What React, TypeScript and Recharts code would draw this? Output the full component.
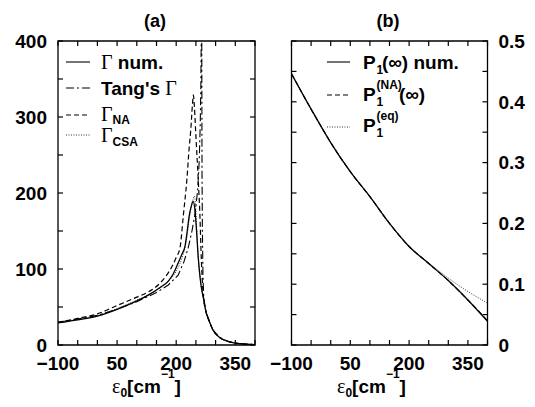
import React from 'react';
import { LineChart, Line, XAxis, YAxis, ReferenceArea } from 'recharts';

// ---------- ticks ----------
const epsTicks = [-100, -50, 0, 50, 100, 150, 200, 250, 300, 350, 400];
const epsLabels = [-100, 50, 200, 350];
const gammaTicks = [0, 50, 100, 150, 200, 250, 300, 350, 400];
const gammaLabels = [0, 100, 200, 300, 400];
const pTicks = [0, 0.05, 0.1, 0.15, 0.2, 0.25, 0.3, 0.35, 0.4, 0.45, 0.5];
const pLabels = [0, 0.1, 0.2, 0.3, 0.4, 0.5];

// ---------- panel (a) ----------
const gammaNumEps = [-100, -50, 0, 50, 100, 130, 160, 180, 193, 205, 215, 222, 228, 233, 238, 243, 247, 251, 256, 260, 264, 269, 275, 285, 293, 310, 330, 350, 380, 400];
const gammaNumVal = [29, 33, 38, 47, 58, 66, 76, 84, 94, 108, 120, 129, 150, 170, 182, 189, 180, 155, 115, 92, 75, 62, 45, 30, 20, 10, 5, 2.5, 1, 0.5];

const tangEps = [-100, -50, 0, 50, 100, 150, 180, 205, 220, 231, 240, 248, 254.5, 258.5, 261, 262.5, 264, 264.8, 265.5, 266.5, 268, 270, 275, 285, 293, 310, 330, 350, 380, 400];
const tangVal = [30, 34, 39, 47, 57, 69, 79, 92, 110, 129, 150, 173, 204, 243, 290, 340, 430, 430, 230, 150, 90, 62, 45, 30, 20, 10, 5, 2.5, 1, 0.5];

const gammaNAEps = [-100, -50, 0, 50, 100, 130, 160, 189, 200, 210, 218, 227, 233, 237, 241, 243.5, 246, 250, 256, 260, 264, 269, 275, 285, 293, 310, 330, 350, 380, 400];
const gammaNAVal = [30, 35, 41, 52, 63, 70, 82, 103, 115, 129, 170, 217, 260, 283, 315, 329, 315, 275, 217, 173, 110, 64, 45, 30, 20, 10, 5, 2.5, 1, 0.5];

const gammaCSAEps = [-100, -50, 0, 50, 100, 150, 180, 200, 215, 225, 233, 238, 243, 246, 249, 252, 256, 260, 264, 269, 275, 285, 293, 310, 330, 350, 380, 400];
const gammaCSAVal = [30, 34, 39, 48, 59, 72, 84, 97, 115, 135, 165, 182, 192, 196, 185, 155, 115, 92, 75, 62, 45, 30, 20, 10, 5, 2.5, 1, 0.5];

// ---------- panel (b) ----------
const pEps = [-100, -50, 0, 50, 100, 150, 200, 250, 300, 350, 400];
const pNumVal = [0.446, 0.388, 0.333, 0.285, 0.244, 0.2, 0.162, 0.134, 0.106, 0.074, 0.039];
const pNAVal = [0.446, 0.388, 0.333, 0.285, 0.244, 0.2, 0.162, 0.134, 0.106, 0.074, 0.04];
const pEqVal = [0.446, 0.388, 0.333, 0.285, 0.244, 0.2, 0.162, 0.135, 0.11, 0.088, 0.069];

const zip = (xs: number[], ys: number[]) => xs.map((x, i) => ({ x, y: ys[i] }));

const SANS = '"Liberation Sans", Arial, Helvetica, sans-serif';
const SERIF = '"Liberation Serif", "Times New Roman", serif';
const labelStyle = { fontFamily: SANS, fontWeight: 'bold' as const, fontSize: 19, fill: '#000' };

const fmtNum = (v: number) => (v < 0 ? '\u2212' + String(-v) : String(v));
const has = (arr: number[], v: number) => arr.some((l) => Math.abs(l - v) < 1e-9);

// layout constants (plot box sizes)
const PLOT_H = 304;
const PLOT_W_A = 197;
const PLOT_W_B = 196;
const TICK = 5;
const M_X = 12;
const M_Y = 11;

const TK = { stroke: '#000', strokeWidth: 1.2 };

function bottomTick(p: any) {
  const { x, y, payload } = p;
  const v = payload.value as number;
  const ay = y - M_X;
  return (
    <g>
      <line x1={x} x2={x} y1={ay} y2={ay - TICK} {...TK} />
      <line x1={x} x2={x} y1={ay - PLOT_H} y2={ay - PLOT_H + TICK} {...TK} />
      {has(epsLabels, v) && (
        <text x={x} y={y} dy="0.71em" textAnchor="middle" {...labelStyle}>{fmtNum(v)}</text>
      )}
    </g>
  );
}

function leftTickA(p: any) {
  const { x, y, payload } = p;
  const v = payload.value as number;
  const ax = x + M_Y;
  return (
    <g>
      <line x1={ax} x2={ax + TICK} y1={y} y2={y} {...TK} />
      <line x1={ax + PLOT_W_A} x2={ax + PLOT_W_A - TICK} y1={y} y2={y} {...TK} />
      {has(gammaLabels, v) && (
        <text x={x} y={y} dy="0.355em" textAnchor="end" {...labelStyle}>{String(v)}</text>
      )}
    </g>
  );
}

function rightTickB(p: any) {
  const { x, y, payload } = p;
  const v = payload.value as number;
  const ax = x - M_Y;
  return (
    <g>
      <line x1={ax} x2={ax - TICK} y1={y} y2={y} {...TK} />
      <line x1={ax - PLOT_W_B} x2={ax - PLOT_W_B + TICK} y1={y} y2={y} {...TK} />
      {has(pLabels, v) && (
        <text x={x} y={y} dy="0.355em" textAnchor="start" {...labelStyle}>{String(v)}</text>
      )}
    </g>
  );
}

const axisCommon = {
  type: 'number' as const,
  interval: 0 as const,
  tickSize: 0,
  axisLine: false,
  tickLine: false,
  allowDataOverflow: true,
};

function PanelA() {
  return (
    <LineChart width={270} height={407} margin={{ top: 41, right: 15, bottom: 32, left: 0 }}>
      <XAxis {...axisCommon} xAxisId="b" dataKey="x" domain={[-100, 400]} ticks={epsTicks}
        tickMargin={M_X} height={30} tick={bottomTick} />
      <YAxis {...axisCommon} yAxisId="l" domain={[0, 400]} ticks={gammaTicks}
        tickMargin={M_Y} width={58} tick={leftTickA} />
      <ReferenceArea xAxisId="b" yAxisId="l" x1={-100} x2={400} y1={0} y2={400}
        fill="none" stroke="#000" strokeWidth={1.3} />
      <Line xAxisId="b" yAxisId="l" data={zip(gammaCSAEps, gammaCSAVal)} dataKey="y" type="monotone"
        stroke="#333" strokeWidth={1} strokeDasharray="1 1.5" dot={false} isAnimationActive={false} />
      <Line xAxisId="b" yAxisId="l" data={zip(gammaNAEps, gammaNAVal)} dataKey="y" type="monotone"
        stroke="#000" strokeWidth={1.2} strokeDasharray="5 3" dot={false} isAnimationActive={false} />
      <Line xAxisId="b" yAxisId="l" data={zip(tangEps, tangVal)} dataKey="y" type="linear"
        stroke="#000" strokeWidth={1.1} strokeDasharray="8 3 2 3" dot={false} isAnimationActive={false} />
      <Line xAxisId="b" yAxisId="l" data={zip(gammaNumEps, gammaNumVal)} dataKey="y" type="monotone"
        stroke="#000" strokeWidth={1.3} dot={false} isAnimationActive={false} />
    </LineChart>
  );
}

function PanelB() {
  return (
    <LineChart width={265} height={407} margin={{ top: 41, right: 0, bottom: 32, left: 21.5 }}>
      <XAxis {...axisCommon} xAxisId="b" dataKey="x" domain={[-100, 400]} ticks={epsTicks}
        tickMargin={M_X} height={30} tick={bottomTick} />
      <YAxis {...axisCommon} yAxisId="r" orientation="right" domain={[0, 0.5]} ticks={pTicks}
        tickMargin={M_Y} width={47.5} tick={rightTickB} />
      <ReferenceArea xAxisId="b" yAxisId="r" x1={-100} x2={400} y1={0} y2={0.5}
        fill="none" stroke="#000" strokeWidth={1.3} />
      <Line xAxisId="b" yAxisId="r" data={zip(pEps, pEqVal)} dataKey="y" type="monotone"
        stroke="#333" strokeWidth={1} strokeDasharray="1 1.5" dot={false} isAnimationActive={false} />
      <Line xAxisId="b" yAxisId="r" data={zip(pEps, pNAVal)} dataKey="y" type="monotone"
        stroke="#000" strokeWidth={1.2} strokeDasharray="5 3" dot={false} isAnimationActive={false} />
      <Line xAxisId="b" yAxisId="r" data={zip(pEps, pNumVal)} dataKey="y" type="monotone"
        stroke="#000" strokeWidth={1.3} dot={false} isAnimationActive={false} />
    </LineChart>
  );
}

// small, tightly-sized SVG boxes (page coordinates preserved through viewBox)
function Box({ x, y, w, h, children }: { x: number; y: number; w: number; h: number; children: React.ReactNode }) {
  return (
    <svg width={w} height={h} viewBox={`${x} ${y} ${w} ${h}`}
      style={{ position: 'absolute', left: x, top: y, pointerEvents: 'none', overflow: 'visible' }}>
      {children}
    </svg>
  );
}

function Texts() {
  const b = { fontFamily: SANS, fontWeight: 'bold' as const };
  const s = { fontFamily: SERIF };
  return (
    <>
      <Box x={130} y={6} w={50} h={28}>
        <text x={155} y={27} textAnchor="middle" fontSize={18} {...b}>(a)</text>
      </Box>
      <Box x={362} y={6} w={52} h={28}>
        <text x={388} y={27} textAnchor="middle" fontSize={18} {...b}>(b)</text>
      </Box>

      {[112, 337].map((x0) => (
        <Box key={x0} x={x0 - 4} y={364} w={90} h={40}>
          <text x={x0} y={393} fontSize={19} {...b}>
            <tspan {...s} fontWeight="normal" fontSize={20}>ε</tspan>
            <tspan fontSize={12} dy={4}>0</tspan>
            <tspan dy={-4}>[cm</tspan>
            <tspan fontSize={12} dy={-15}>−1</tspan>
            <tspan dy={15}>]</tspan>
          </text>
        </Box>
      ))}

      <Box x={64} y={50} w={126} h={102}>
        <line x1={66} x2={90} y1={62} y2={62} stroke="#000" strokeWidth={1.1} />
        <text x={101} y={68.5} fontSize={19} {...b}>
          <tspan {...s} fontWeight="normal" fontSize={20}>Γ</tspan>
          <tspan> num.</tspan>
        </text>
        <line x1={66} x2={90} y1={88} y2={88} stroke="#000" strokeWidth={1.1} strokeDasharray="8 3 2 3" />
        <text x={101} y={94.5} fontSize={19} {...b}>
          <tspan>Tang's </tspan>
          <tspan {...s} fontWeight="normal" fontSize={20}>Γ</tspan>
        </text>
        <line x1={66} x2={90} y1={115} y2={115} stroke="#000" strokeWidth={1.1} strokeDasharray="5 3" />
        <text x={101} y={121} fontSize={20} {...s}>
          <tspan>Γ</tspan>
          <tspan {...b} fontSize={12} dy={3}>NA</tspan>
        </text>
        <line x1={66} x2={90} y1={135} y2={135} stroke="#333" strokeWidth={1} strokeDasharray="1 1.5" />
        <text x={101} y={142} fontSize={20} {...s}>
          <tspan>Γ</tspan>
          <tspan {...b} fontSize={12} dy={4}>CSA</tspan>
        </text>
      </Box>

      <Box x={324} y={50} w={146} h={92}>
        <line x1={327} x2={350} y1={62} y2={62} stroke="#000" strokeWidth={1.1} />
        <text x={363} y={68.5} fontSize={19} {...b}>P</text>
        <text x={376.5} y={73.5} fontSize={12} {...b}>1</text>
        <text x={382} y={68.5} fontSize={19} {...b}>(∞) num.</text>

        <line x1={327} x2={350} y1={95} y2={95} stroke="#000" strokeWidth={1.1} strokeDasharray="5 3" />
        <text x={363} y={101} fontSize={19} {...b}>P</text>
        <text x={376.5} y={106} fontSize={12} {...b}>1</text>
        <text x={376.5} y={88.5} fontSize={12} {...b}>(NA)</text>
        <text x={399} y={101} fontSize={19} {...b}>(∞)</text>

        <line x1={327} x2={350} y1={127} y2={127} stroke="#333" strokeWidth={1} strokeDasharray="1 1.5" />
        <text x={363} y={132} fontSize={19} {...b}>P</text>
        <text x={376.5} y={137} fontSize={12} {...b}>1</text>
        <text x={376.5} y={119.5} fontSize={12} {...b}>(eq)</text>
      </Box>
    </>
  );
}

export default function App() {
  return (
    <div style={{ position: 'absolute', left: 0, top: 0, width: 535, height: 407, background: '#fff' }}>
      <div style={{ position: 'absolute', left: 0, top: 0 }}>
        <PanelA />
      </div>
      <div style={{ position: 'absolute', left: 270, top: 0 }}>
        <PanelB />
      </div>
      <Texts />
    </div>
  );
}
